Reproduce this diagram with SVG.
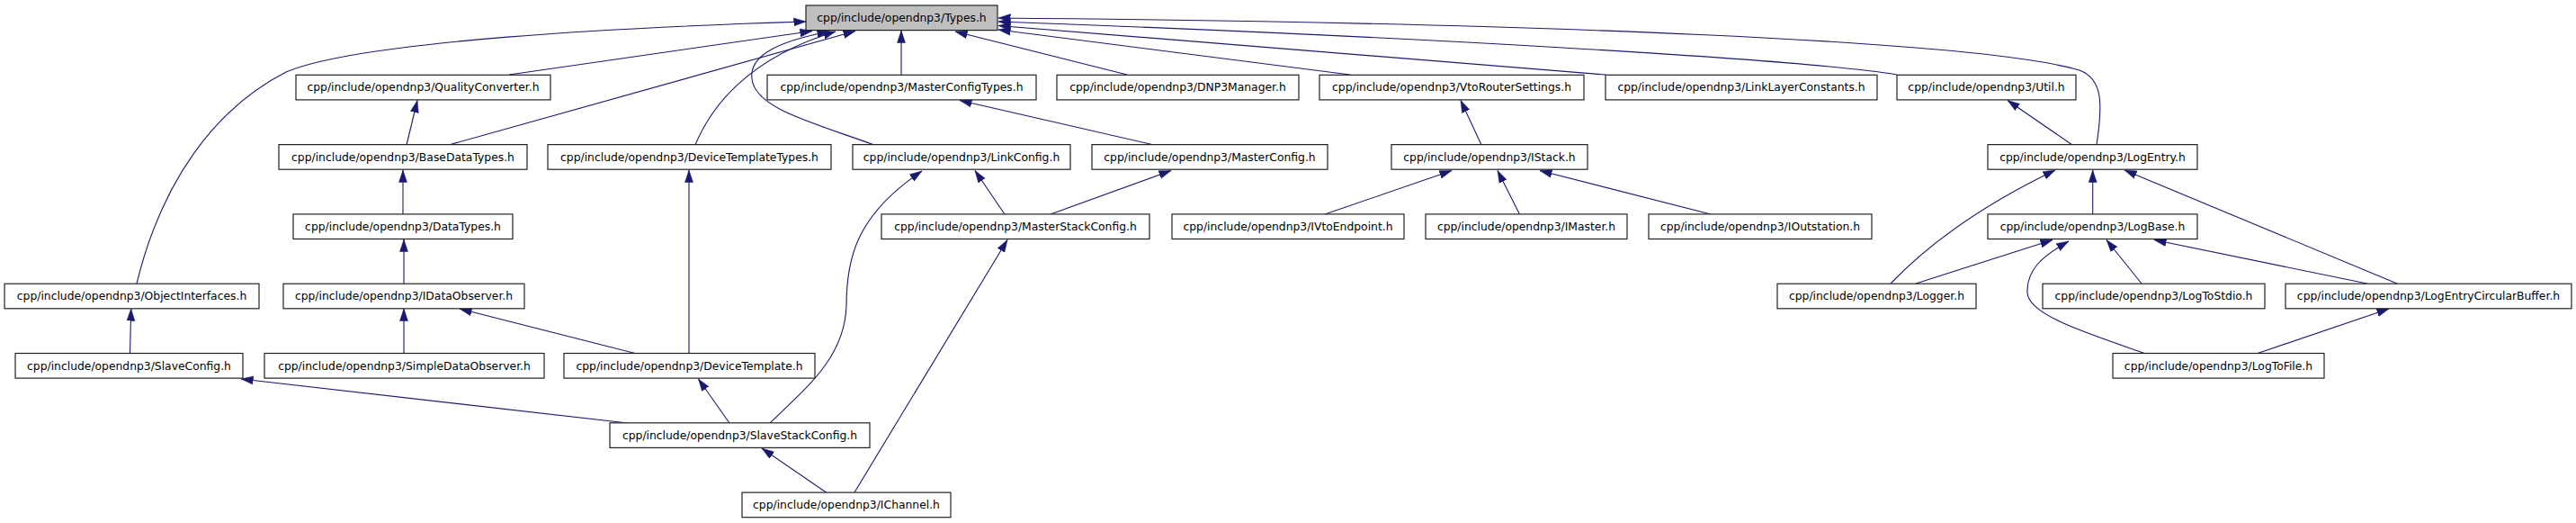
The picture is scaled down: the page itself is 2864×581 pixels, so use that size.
<svg xmlns="http://www.w3.org/2000/svg" width="2864" height="581" viewBox="0 0 2864 581">
<style>
.n rect{fill:#fff;stroke:#222;stroke-width:1.2}
.n.root rect{fill:#bfbfbf}
.n text{font-family:"DejaVu Sans","Liberation Sans",sans-serif;font-size:12.35px;fill:#000;text-anchor:middle}
.e path{fill:none;stroke:#191970;stroke-width:1.1;marker-end:url(#ah)}
</style>
<defs>
<marker id="ah" markerUnits="userSpaceOnUse" markerWidth="14" markerHeight="10" viewBox="0 0 14 10" refX="13.5" refY="5" orient="auto">
<path d="M0,0.5 L13.5,5 L0,9.5 z" fill="#191970" stroke="#191970" stroke-width="0.5"/>
</marker>
</defs>
<rect width="2864" height="581" fill="#fff"/>
<g id="connectors" class="e">
<path d="M152,315 C180,200 240,120 318,80 C400,45 700,30 896,24"/>
<path d="M566,83 L903,34.5"/>
<path d="M499,161 L951,34.5"/>
<path d="M773,161 C790,120 830,65 929,35"/>
<path d="M972,161 C900,135 840,120 836,88 C832,60 870,45 922,35"/>
<path d="M1002,83 L1002,34"/>
<path d="M1253,83 L1062,35"/>
<path d="M1501,83 L1110,33"/>
<path d="M1785,83 L1110,28.5"/>
<path d="M2109,83 C2000,65 1550,40 1110,24"/>
<path d="M2331,161 C2338,115 2338,88 2312,78 C2200,45 1700,25 1110,20"/>
<path d="M452,161 L464,111.5"/>
<path d="M448,238 L448,189"/>
<path d="M449,315 L449,266"/>
<path d="M449,393 L449,343"/>
<path d="M708,393 L511,343"/>
<path d="M766,393 L766,189"/>
<path d="M144.5,393 L145.7,343"/>
<path d="M698,470 L268,421"/>
<path d="M811,470 L776.5,421"/>
<path d="M856,470 C895,432 939,398 941,340 C941,290 950,240 1025,190"/>
<path d="M1117,238 L1084,189.5"/>
<path d="M1168,238 L1302,189.5"/>
<path d="M1283,161 L1067,111.5"/>
<path d="M1647,161 L1624,111.5"/>
<path d="M1473,238 L1614,189.5"/>
<path d="M1689.5,238 L1665,189.5"/>
<path d="M1902,238 L1712,189.5"/>
<path d="M950,547 L1120,266.5"/>
<path d="M918.5,547 L847,498"/>
<path d="M2304,161 L2232,111.5"/>
<path d="M2326.7,238 L2326.7,189"/>
<path d="M2102,315 C2150,265 2210,225 2285,189"/>
<path d="M2665,315 L2362,189"/>
<path d="M2130,315 L2282,266.5"/>
<path d="M2386,393 C2320,370 2255,350 2254,325 C2253,300 2270,285 2300,268"/>
<path d="M2381,315 L2342,266.5"/>
<path d="M2631.6,315 L2395,266.5"/>
<path d="M2508.6,393 L2656,343"/>
</g>
<g id="types" class="n root"><rect x="896" y="6" width="213" height="27.6"/><text x="1002.5" y="24">cpp/include/opendnp3/Types.h</text></g>
<g id="qualityconverter" class="n"><rect x="329" y="83.3" width="283" height="27.6"/><text x="470.5" y="101.3">cpp/include/opendnp3/QualityConverter.h</text></g>
<g id="masterconfigtypes" class="n"><rect x="853" y="83.3" width="299" height="27.6"/><text x="1002.5" y="101.3">cpp/include/opendnp3/MasterConfigTypes.h</text></g>
<g id="dnp3manager" class="n"><rect x="1175" y="83.3" width="269" height="27.6"/><text x="1309.5" y="101.3">cpp/include/opendnp3/DNP3Manager.h</text></g>
<g id="vtoroutersettings" class="n"><rect x="1467" y="83.3" width="294" height="27.6"/><text x="1614" y="101.3">cpp/include/opendnp3/VtoRouterSettings.h</text></g>
<g id="linklayerconstants" class="n"><rect x="1785" y="83.3" width="302" height="27.6"/><text x="1936" y="101.3">cpp/include/opendnp3/LinkLayerConstants.h</text></g>
<g id="util" class="n"><rect x="2109" y="83.3" width="199" height="27.6"/><text x="2208.5" y="101.3">cpp/include/opendnp3/Util.h</text></g>
<g id="basedatatypes" class="n"><rect x="310" y="160.6" width="276" height="27.6"/><text x="448" y="178.6">cpp/include/opendnp3/BaseDataTypes.h</text></g>
<g id="devicetemplatetypes" class="n"><rect x="609" y="160.6" width="315" height="27.6"/><text x="766.5" y="178.6">cpp/include/opendnp3/DeviceTemplateTypes.h</text></g>
<g id="linkconfig" class="n"><rect x="948" y="160.6" width="242" height="27.6"/><text x="1069" y="178.6">cpp/include/opendnp3/LinkConfig.h</text></g>
<g id="masterconfig" class="n"><rect x="1214" y="160.6" width="262" height="27.6"/><text x="1345" y="178.6">cpp/include/opendnp3/MasterConfig.h</text></g>
<g id="istack" class="n"><rect x="1547" y="160.6" width="218" height="27.6"/><text x="1656" y="178.6">cpp/include/opendnp3/IStack.h</text></g>
<g id="logentry" class="n"><rect x="2210" y="160.6" width="233" height="27.6"/><text x="2326.5" y="178.6">cpp/include/opendnp3/LogEntry.h</text></g>
<g id="datatypes" class="n"><rect x="326" y="237.9" width="244" height="27.6"/><text x="448" y="255.9">cpp/include/opendnp3/DataTypes.h</text></g>
<g id="masterstackconfig" class="n"><rect x="980" y="237.9" width="298" height="27.6"/><text x="1129" y="255.9">cpp/include/opendnp3/MasterStackConfig.h</text></g>
<g id="ivtoendpoint" class="n"><rect x="1303" y="237.9" width="258" height="27.6"/><text x="1432" y="255.9">cpp/include/opendnp3/IVtoEndpoint.h</text></g>
<g id="imaster" class="n"><rect x="1585" y="237.9" width="224" height="27.6"/><text x="1697" y="255.9">cpp/include/opendnp3/IMaster.h</text></g>
<g id="ioutstation" class="n"><rect x="1833" y="237.9" width="248" height="27.6"/><text x="1957" y="255.9">cpp/include/opendnp3/IOutstation.h</text></g>
<g id="logbase" class="n"><rect x="2210" y="237.9" width="233" height="27.6"/><text x="2326.5" y="255.9">cpp/include/opendnp3/LogBase.h</text></g>
<g id="objectinterfaces" class="n"><rect x="5" y="315.2" width="283" height="27.6"/><text x="146.5" y="333.2">cpp/include/opendnp3/ObjectInterfaces.h</text></g>
<g id="idataobserver" class="n"><rect x="315" y="315.2" width="268" height="27.6"/><text x="449" y="333.2">cpp/include/opendnp3/IDataObserver.h</text></g>
<g id="logger" class="n"><rect x="1976" y="315.2" width="221" height="27.6"/><text x="2086.5" y="333.2">cpp/include/opendnp3/Logger.h</text></g>
<g id="logtostdio" class="n"><rect x="2271" y="315.2" width="247" height="27.6"/><text x="2394.5" y="333.2">cpp/include/opendnp3/LogToStdio.h</text></g>
<g id="logentrycircularbuffer" class="n"><rect x="2541" y="315.2" width="318" height="27.6"/><text x="2700" y="333.2">cpp/include/opendnp3/LogEntryCircularBuffer.h</text></g>
<g id="slaveconfig" class="n"><rect x="17" y="392.5" width="253" height="27.6"/><text x="143.5" y="410.5">cpp/include/opendnp3/SlaveConfig.h</text></g>
<g id="simpledataobserver" class="n"><rect x="294" y="392.5" width="311" height="27.6"/><text x="449.5" y="410.5">cpp/include/opendnp3/SimpleDataObserver.h</text></g>
<g id="devicetemplate" class="n"><rect x="627" y="392.5" width="279" height="27.6"/><text x="766.5" y="410.5">cpp/include/opendnp3/DeviceTemplate.h</text></g>
<g id="logtofile" class="n"><rect x="2349" y="392.5" width="235" height="27.6"/><text x="2466.5" y="410.5">cpp/include/opendnp3/LogToFile.h</text></g>
<g id="slavestackconfig" class="n"><rect x="678" y="469.8" width="289" height="27.6"/><text x="822.5" y="487.8">cpp/include/opendnp3/SlaveStackConfig.h</text></g>
<g id="ichannel" class="n"><rect x="825" y="547.1" width="232" height="27.6"/><text x="941" y="565.1">cpp/include/opendnp3/IChannel.h</text></g>
</svg>
